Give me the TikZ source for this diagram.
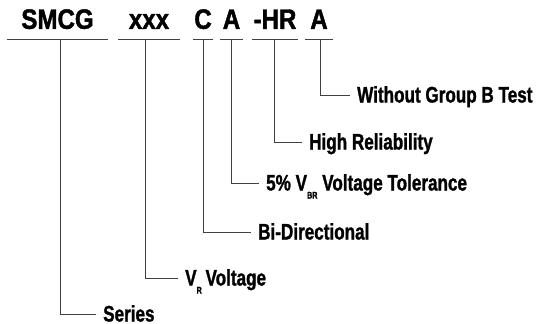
\documentclass[tikz,border=0pt]{standalone}
\usepackage{fontspec}
\newfontfamily\codefont{Liberation Sans}[FakeStretch=0.86,FakeBold=1.5]
\newfontfamily\descfont{Liberation Sans}[FakeStretch=0.76,FakeBold=1.2]
\newcommand{\lowsub}[1]{\raisebox{-8pt}{\fontsize{9.5}{9.5}\selectfont #1}}
\begin{document}
\begin{tikzpicture}[x=1pt,y=-1pt,
    code/.style={font=\codefont\bfseries\fontsize{28}{28}\selectfont,
      anchor=south,inner xsep=0pt,inner ysep=10pt,text depth=0pt},
    desc/.style={font=\descfont\bfseries\fontsize{22.5}{22.5}\selectfont,
      anchor=west,inner xsep=7pt,inner ysep=0pt,text height=15pt,text depth=0pt},
    rule/.style={draw=black!75,line width=0.9pt}]
  \useasboundingbox (0,0) rectangle (536,324);
  % part number
  \node[code,minimum width=101pt] (smcg) at (57.5,39) {SMCG};
  \node[code,minimum width=62pt] (xxx) at (149,39) {xxx};
  \node[code,minimum width=20pt] (bidir) at (203,39) {C};
  \node[code,minimum width=23pt] (tol) at (231.5,39) {A};
  \node[code,minimum width=46pt] (hirel) at (275,39) {-HR};
  \node[code,minimum width=28pt] (nogrp) at (319,39) {A};
  \foreach \n in {smcg,xxx,bidir,tol,hirel,nogrp}
    \draw[rule] (\n.south west) -- (\n.south east);
  % meanings
  \node[desc] (without) at (350,95) {Without Group B Test};
  \node[desc] (high) at (302,142) {High Reliability};
  \node[desc] (five) at (259,183) {5\% V\lowsub{BR} Voltage Tolerance};
  \node[desc] (bi) at (251,232) {Bi-Directional};
  \node[desc] (vr) at (178,278) {V\lowsub{R}\,Voltage};
  \node[desc] (series) at (96,314) {Series};
  \draw[rule] ([xshift=1pt]nogrp.south) |- (without.west);
  \draw[rule] ([xshift=-1pt]hirel.south) |- (high.west);
  \draw[rule] (tol.south) |- (five.west);
  \draw[rule] (bidir.south) |- (bi.west);
  \draw[rule] ([xshift=-4pt]xxx.south) |- (vr.west);
  \draw[rule] ([xshift=2.5pt]smcg.south) |- (series.west);
\end{tikzpicture}
\end{document}
